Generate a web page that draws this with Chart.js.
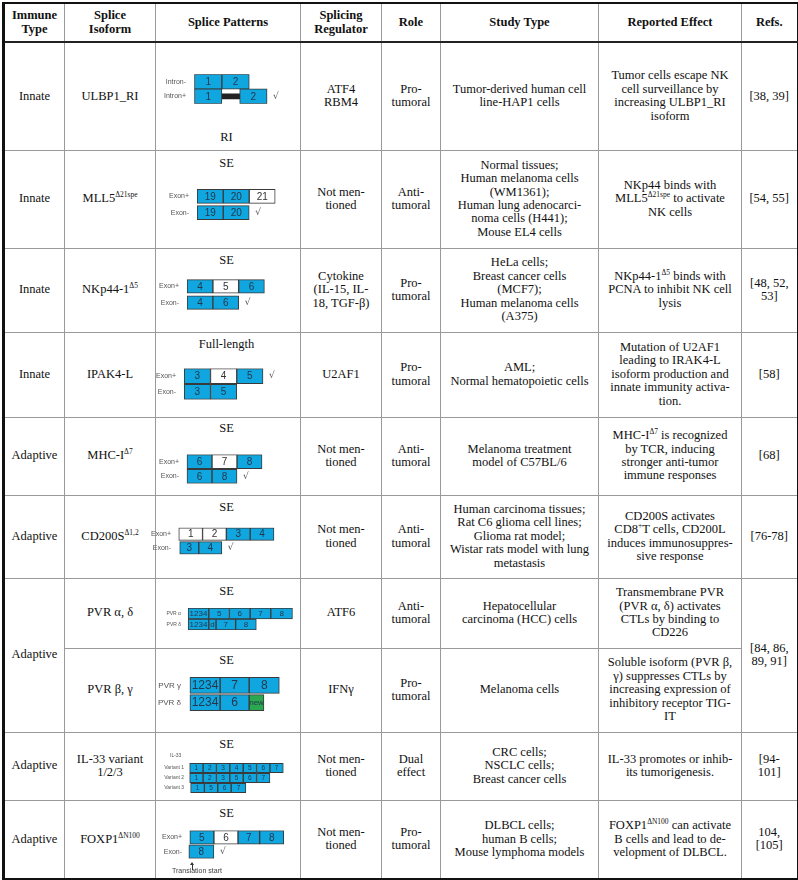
<!DOCTYPE html>
<html>
<head>
<meta charset="utf-8">
<script src="https://cdn.jsdelivr.net/npm/chart.js@4.4.1/dist/chart.umd.min.js"></script>
<style>
  body { margin: 0; background: #fff; width: 798px; height: 880px; position: relative; overflow: hidden; }
  #tbl {
    position: absolute; left: 2px; top: 2px; width: 794px;
    border-collapse: collapse; table-layout: fixed;
    font-family: 'Liberation Serif', 'Times New Roman', serif;
    font-size: 12.5px; line-height: 13.4px; color: #111;
    border-top: 2px solid #111; border-right: 2px solid #111;
    border-bottom: 2px solid #111; border-left: 3px solid #111;
  }
  #tbl td, #tbl th { border: 1px solid #9a9a9a; text-align: center; vertical-align: middle; padding: 0 2px; }
  #tbl th { font-weight: bold; border-bottom: 2px solid #222; }
  sup { font-size: 7.5px; line-height: 0; vertical-align: 5px; }
  #overlay { position: absolute; left: 0; top: 0; width: 798px; height: 880px; pointer-events: none; }
  .ttl { position: absolute; font-family: 'Liberation Serif', serif; font-size: 12.5px; color: #111; transform: translate(-50%, -50%); white-space: nowrap; }
  .tiny { position: absolute; font-family: 'Liberation Sans', Arial, sans-serif; color: #555; white-space: nowrap; }
  canvas.sp { position: absolute; }
</style>
</head>
<body>
<table id="tbl">
  <colgroup>
    <col style="width:61px"><col style="width:91px"><col style="width:145px"><col style="width:81px">
    <col style="width:59px"><col style="width:158px"><col style="width:143px"><col style="width:56px">
  </colgroup>
  <tr style="height:39px">
    <th>Immune<br>Type</th><th>Splice<br>Isoform</th><th>Splice Patterns</th><th>Splicing<br>Regulator</th>
    <th>Role</th><th>Study Type</th><th>Reported Effect</th><th>Refs.</th>
  </tr>
  <tr style="height:108px">
    <td>Innate</td><td>ULBP1_RI</td><td></td><td>ATF4<br>RBM4</td><td>Pro-<br>tumoral</td>
    <td>Tumor-derived human cell<br>line-HAP1 cells</td>
    <td>Tumor cells escape NK<br>cell surveillance by<br>increasing ULBP1_RI<br>isoform</td><td>[38, 39]</td>
  </tr>
  <tr style="height:98px">
    <td>Innate</td><td>MLL5<sup>Δ21spe</sup></td><td></td><td>Not men-<br>tioned</td><td>Anti-<br>tumoral</td>
    <td>Normal tissues;<br>Human melanoma cells<br>(WM1361);<br>Human lung adenocarci-<br>noma cells (H441);<br>Mouse EL4 cells</td>
    <td>NKp44 binds with<br>MLL5<sup>Δ21spe</sup> to activate<br>NK cells</td><td>[54, 55]</td>
  </tr>
  <tr style="height:84px">
    <td>Innate</td><td>NKp44-1<sup>Δ5</sup></td><td></td><td>Cytokine<br>(IL-15, IL-<br>18, TGF-β)</td><td>Pro-<br>tumoral</td>
    <td>HeLa cells;<br>Breast cancer cells<br>(MCF7);<br>Human melanoma cells<br>(A375)</td>
    <td>NKp44-1<sup>Δ5</sup> binds with<br>PCNA to inhibit NK cell<br>lysis</td><td>[48, 52,<br>53]</td>
  </tr>
  <tr style="height:85px">
    <td>Innate</td><td>IPAK4-L</td><td></td><td>U2AF1</td><td>Pro-<br>tumoral</td>
    <td>AML;<br>Normal hematopoietic cells</td>
    <td>Mutation of U2AF1<br>leading to IRAK4-L<br>isoform production and<br>innate immunity activa-<br>tion.</td><td>[58]</td>
  </tr>
  <tr style="height:78px">
    <td>Adaptive</td><td>MHC-I<sup>Δ7</sup></td><td></td><td>Not men-<br>tioned</td><td>Anti-<br>tumoral</td>
    <td>Melanoma treatment<br>model of C57BL/6</td>
    <td>MHC-I<sup>Δ7</sup> is recognized<br>by TCR, inducing<br>stronger anti-tumor<br>immune responses</td><td>[68]</td>
  </tr>
  <tr style="height:83px">
    <td>Adaptive</td><td>CD200S<sup>Δ1,2</sup></td><td></td><td>Not men-<br>tioned</td><td>Anti-<br>tumoral</td>
    <td>Human carcinoma tissues;<br>Rat C6 glioma cell lines;<br>Glioma rat model;<br>Wistar rats model with lung<br>metastasis</td>
    <td>CD200S activates<br>CD8<sup>+</sup>T cells, CD200L<br>induces immunosuppres-<br>sive response</td><td>[76-78]</td>
  </tr>
  <tr style="height:70px">
    <td rowspan="2">Adaptive</td><td>PVR α, δ</td><td></td><td>ATF6</td><td>Anti-<br>tumoral</td>
    <td>Hepatocellular<br>carcinoma (HCC) cells</td>
    <td>Transmembrane PVR<br>(PVR α, δ) activates<br>CTLs by binding to<br>CD226</td><td rowspan="2">[84, 86,<br>89, 91]</td>
  </tr>
  <tr style="height:84px">
    <td>PVR β, γ</td><td></td><td>IFNγ</td><td>Pro-<br>tumoral</td>
    <td>Melanoma cells</td>
    <td>Soluble isoform (PVR β,<br>γ) suppresses CTLs by<br>increasing expression of<br>inhibitory receptor TIG-<br>IT</td>
  </tr>
  <tr style="height:68px">
    <td>Adaptive</td><td>IL-33 variant<br>1/2/3</td><td></td><td>Not men-<br>tioned</td><td>Dual<br>effect</td>
    <td>CRC cells;<br>NSCLC cells;<br>Breast cancer cells</td>
    <td>IL-33 promotes or inhib-<br>its tumorigenesis.</td><td>[94-<br>101]</td>
  </tr>
  <tr style="height:79px">
    <td>Adaptive</td><td>FOXP1<sup>ΔN100</sup></td><td></td><td>Not men-<br>tioned</td><td>Pro-<br>tumoral</td>
    <td>DLBCL cells;<br>human B cells;<br>Mouse lymphoma models</td>
    <td>FOXP1<sup>ΔN100</sup> can activate<br>B cells and lead to de-<br>velopment of DLBCL.</td><td>104,<br>[105]</td>
  </tr>
</table>
<div id="overlay"></div>
<script>
// splice patterns: each segment is [start, end, label, kind] in exon units
// kind: e = exon kept, s = skipped exon, i = retained intron, n = new exon
const ulbpTracks = ['Intron-', 'Intron+'];
const ulbpSegs = [
  [[0, 1, '1', 'e'], [1, 2, '2', 'e']],
  [[0, 1, '1', 'e'], [1, 1.65, '', 'i'], [1.65, 2.65, '2', 'e']]
];

const mll5Tracks = ['Exon+', 'Exon-'];
const mll5Segs = [
  [[0, 1, '19', 'e'], [1, 2, '20', 'e'], [2, 3, '21', 's']],
  [[0, 1, '19', 'e'], [1, 2, '20', 'e']]
];

const nkTracks = ['Exon+', 'Exon-'];
const nkSegs = [
  [[0, 1, '4', 'e'], [1, 2, '5', 's'], [2, 3, '6', 'e']],
  [[0, 1, '4', 'e'], [1, 2, '6', 'e']]
];

const irakTracks = ['Exon+', 'Exon-'];
const irakSegs = [
  [[0, 1, '3', 'e'], [1, 2, '4', 's'], [2, 3, '5', 'e']],
  [[0, 1, '3', 'e'], [1, 2, '5', 'e']]
];

const mhcTracks = ['Exon+', 'Exon-'];
const mhcSegs = [
  [[0, 1, '6', 'e'], [1, 2, '7', 's'], [2, 3, '8', 'e']],
  [[0, 1, '6', 'e'], [1, 2, '8', 'e']]
];

const cd200Tracks = ['Exon+', 'Exon-'];
const cd200Segs = [
  [[0, 1, '1', 's'], [1, 2, '2', 's'], [2, 3, '3', 'e'], [3, 4, '4', 'e']],
  [[0.04, 0.84, '3', 'e'], [0.84, 1.81, '4', 'e']]
];

const pvrAdTracks = ['PVR α', 'PVR δ'];
const pvrAdSegs = [
  [[0, 1, '1234', 'e'], [1, 2, '5', 'e'], [2, 3, '6', 'e'], [3, 4, '7', 'e'], [4, 5.05, '8', 'e']],
  [[0, 1, '1234', 'e'], [1, 1.35, 'd', 'e'], [1.35, 2.3, '7', 'e'], [2.3, 3.3, '8', 'e']]
];

const pvrBgTracks = ['PVR γ', 'PVR δ'];
const pvrBgSegs = [
  [[0, 1.02, '1234', 'e'], [1.02, 2, '7', 'e'], [2, 3.02, '8', 'e']],
  [[0, 1.02, '1234', 'e'], [1.02, 2, '6', 'e'], [2, 2.5, 'new', 'n']]
];

const il33Tracks = ['Variant 1', 'Variant 2', 'Variant 3'];
const il33Segs = [
  [[0, 1, '1', 'e'], [1, 2, '2', 'e'], [2, 3, '3', 'e'], [3, 4, '4', 'e'], [4, 5, '5', 'e'], [5, 6, '6', 'e'], [6, 7, '7', 'e']],
  [[0, 1, '1', 'e'], [1, 2, '2', 'e'], [2, 3, '3', 'e'], [3, 4, '5', 'e'], [4, 5, '6', 'e'], [5, 6, '7', 'e']],
  [[0.07, 1.1, '1', 'e'], [1.1, 2.1, '5', 'e'], [2.1, 3.1, '6', 'e'], [3.1, 4.2, '7', 'e']]
];

const foxTracks = ['Exon+', 'Exon-'];
const foxSegs = [
  [[0, 1, '5', 'e'], [1, 2, '6', 's'], [2, 2.9, '7', 'e'], [2.9, 3.9, '8', 'e']],
  [[-0.04, 1, '8', 'e']]
];

// which track carries the check mark (-1 = none)
const checkTrack = [1, 1, 1, 0, 1, 1, -1, -1, -1, 1];
const patternTitles = ['RI', 'SE', 'SE', 'Full-length', 'SE', 'SE', 'SE', 'SE', 'SE', 'SE'];

const fills = { e: '#10a6e0', s: '#ffffff', i: '#222222', n: '#2aa84f' };

// where each little diagram sits (page px)
const layouts = [
  { tracks: ulbpTracks, segs: ulbpSegs, x0: 194, unit: 27.5, y: 77.5, gap: 22, bar: 15, lab: 7, num: 10, ty: 137 },
  { tracks: mll5Tracks, segs: mll5Segs, x0: 197, unit: 26, y: 193, gap: 23.5, bar: 14, lab: 7, num: 10, ty: 163 },
  { tracks: nkTracks, segs: nkSegs, x0: 187.5, unit: 25.7, y: 282.5, gap: 23.5, bar: 13.5, lab: 7, num: 10, ty: 260 },
  { tracks: irakTracks, segs: irakSegs, x0: 184, unit: 26.3, y: 372.5, gap: 23, bar: 15, lab: 7, num: 10, ty: 344 },
  { tracks: mhcTracks, segs: mhcSegs, x0: 187, unit: 25, y: 458, gap: 22, bar: 14, lab: 7, num: 10, ty: 428 },
  { tracks: cd200Tracks, segs: cd200Segs, x0: 179, unit: 23.75, y: 530, gap: 21, bar: 12.5, lab: 7, num: 10, ty: 507 },
  { tracks: pvrAdTracks, segs: pvrAdSegs, x0: 188, unit: 20.6, y: 610.5, gap: 17, bar: 11, lab: 5, num: 8, ty: 591 },
  { tracks: pvrBgTracks, segs: pvrBgSegs, x0: 190, unit: 29.5, y: 681, gap: 25, bar: 16, lab: 8, num: 12, ty: 660 },
  { tracks: il33Tracks, segs: il33Segs, x0: 190, unit: 13.4, y: 763.5, gap: 14, bar: 9.5, lab: 5, num: 6.5, ty: 744 },
  { tracks: foxTracks, segs: foxSegs, x0: 190, unit: 24, y: 833.5, gap: 21.5, bar: 13.5, lab: 7, num: 10, ty: 813 }
];

const overlay = document.getElementById('overlay');

function addDiv(cls, text, x, y, css) {
  const d = document.createElement('div');
  d.className = cls;
  d.textContent = text;
  d.style.left = x + 'px';
  d.style.top = y + 'px';
  Object.assign(d.style, css || {});
  overlay.appendChild(d);
  return d;
}

// labels in the boxes and the check mark
const exonText = {
  id: 'exonText',
  afterDatasetsDraw(chart) {
    const ctx = chart.ctx;
    const o = chart.options.plugins.exonText;
    ctx.save();
    ctx.textAlign = 'center';
    ctx.textBaseline = 'middle';
    chart.data.datasets.forEach((ds, di) => {
      chart.getDatasetMeta(di).data.forEach((bar, t) => {
        const seg = ds.meta[t];
        if (!seg || !seg[2]) return;
        const p = bar.getProps(['x', 'y', 'base'], true);
        const size = seg[3] === 'n' ? Math.round(o.num * 0.65) : o.num;
        ctx.font = size + 'px "Liberation Sans", Arial, sans-serif';
        ctx.fillStyle = seg[3] === 's' ? '#333' : '#24384c';
        ctx.fillText(seg[2], (p.x + p.base) / 2, p.y + 0.5);
      });
    });
    if (o.check >= 0) {
      const segs = o.segs[o.check];
      const end = Math.max(...segs.map(s => s[1]));
      const x = chart.scales.x.getPixelForValue(end) + 6;
      const y = chart.scales.y.getPixelForValue(o.check);
      ctx.fillStyle = '#555';
      ctx.font = '9px "DejaVu Sans", sans-serif';
      ctx.textAlign = 'left';
      ctx.fillText('√', x, y);
    }
    ctx.restore();
  }
};

function drawPattern(lay, idx) {
  const labelW = 40;
  const xmin = -0.2;
  const xmax = Math.max(...lay.segs.flat().map(s => s[1])) + 0.8;
  const w = Math.round(labelW + (xmax - xmin) * lay.unit);
  const h = Math.round(lay.tracks.length * lay.gap);

  const canvas = document.createElement('canvas');
  canvas.className = 'sp';
  canvas.width = w;
  canvas.height = h;
  canvas.style.left = (lay.x0 - labelW + xmin * lay.unit) + 'px';
  canvas.style.top = (lay.y - lay.gap / 2) + 'px';
  overlay.appendChild(canvas);

  // split segments into datasets, one bar per track in each
  const groups = [];
  lay.segs.forEach((track, t) => {
    track.forEach(seg => {
      const intron = seg[3] === 'i';
      let g = groups.find(d => d.intron === intron && d.data[t] === null);
      if (!g) {
        g = { intron: intron, data: lay.tracks.map(() => null), meta: lay.tracks.map(() => null) };
        groups.push(g);
      }
      g.data[t] = [seg[0], seg[1]];
      g.meta[t] = seg;
    });
  });

  const datasets = groups.map(g => ({
    data: g.data,
    meta: g.meta,
    grouped: false,
    barThickness: g.intron ? 5 : lay.bar,
    backgroundColor: g.meta.map(s => s ? fills[s[3]] : 'transparent'),
    borderColor: '#3a3a3a',
    borderWidth: g.intron ? 0 : 1,
    borderSkipped: false
  }));

  new Chart(canvas, {
    type: 'bar',
    data: { labels: lay.tracks, datasets: datasets },
    options: {
      responsive: false,
      animation: false,
      indexAxis: 'y',
      layout: { padding: 0 },
      plugins: {
        legend: { display: false },
        tooltip: { enabled: false },
        exonText: { num: lay.num, check: checkTrack[idx], segs: lay.segs }
      },
      scales: {
        x: { type: 'linear', display: false, min: xmin, max: xmax },
        y: {
          type: 'category',
          offset: true,
          grid: { display: false, drawTicks: false },
          border: { display: false },
          ticks: {
            autoSkip: false,
            padding: 3,
            color: '#555',
            font: { size: lay.lab, family: '"Liberation Sans", Arial, sans-serif' }
          },
          afterFit: s => { s.width = labelW; }
        }
      }
    },
    plugins: [exonText]
  });

  addDiv('ttl', patternTitles[idx], 226.5, lay.ty);
}

layouts.forEach(drawPattern);

// extra small notes
addDiv('tiny', 'IL-33', 170, 752, { fontSize: '5px' });
addDiv('tiny', 'Translation start', 172, 867, { fontSize: '7px', color: '#444' });
addDiv('tiny', '', 191.5, 864, { width: '0px', height: '6px', borderLeft: '1px solid #333' });
addDiv('tiny', '', 189.5, 862, { width: '0', height: '0', borderLeft: '2px solid transparent', borderRight: '2px solid transparent', borderBottom: '3px solid #333' });
</script>
</body>
</html>
